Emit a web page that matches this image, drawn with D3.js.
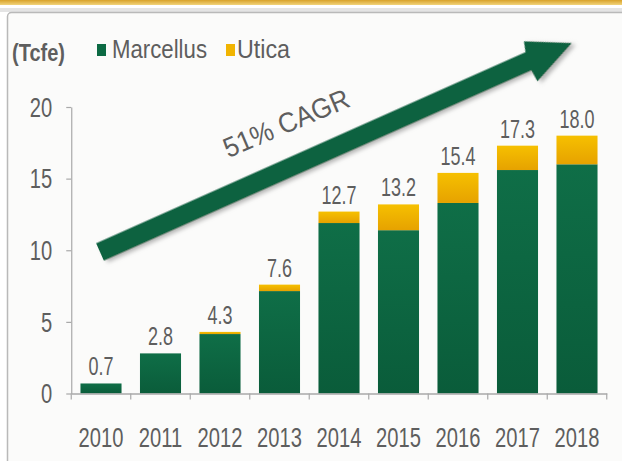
<!DOCTYPE html>
<html>
<head>
<meta charset="utf-8">
<script src="https://cdn.jsdelivr.net/npm/d3@7"></script>
<style>
  html, body { margin: 0; padding: 0; background: #ffffff; }
  svg { display: block; }
  text { font-family: "Liberation Sans", Arial, sans-serif; }
</style>
</head>
<body>
<svg id="chart" width="622" height="461"></svg>
<script>
// Production by year (Tcfe)
const years = ["2010", "2011", "2012", "2013", "2014", "2015", "2016", "2017", "2018"];
const marcellus = [0.7, 2.8, 4.15, 7.15, 11.9, 11.4, 13.3, 15.6, 16.0];
const utica = [0, 0, 0.15, 0.45, 0.8, 1.8, 2.1, 1.7, 2.0];
const yTicks = [0, 5, 10, 15, 20];
const seriesNames = ["Marcellus", "Utica"];
const unitLabel = "(Tcfe)";
const cagrLabel = "51% CAGR";

const colors = { Marcellus: "#0c6a43", Utica: "#f1b400" };
const textColor = "#5e5e5e";
const axisColor = "#a9a9a9";
const squeeze = 0.72; // narrow glyph width

const svg = d3.select("#chart");
const defs = svg.append("defs");

// bar gradients
const gGreen = defs.append("linearGradient").attr("id", "gGreen").attr("x1", 0).attr("y1", 0).attr("x2", 0).attr("y2", 1);
gGreen.append("stop").attr("offset", "0%").attr("stop-color", "#0f6e47");
gGreen.append("stop").attr("offset", "100%").attr("stop-color", "#0a5c3a");
const gYellow = defs.append("linearGradient").attr("id", "gYellow").attr("x1", 0).attr("y1", 0).attr("x2", 0).attr("y2", 1);
gYellow.append("stop").attr("offset", "0%").attr("stop-color", "#f6c000");
gYellow.append("stop").attr("offset", "100%").attr("stop-color", "#e6a200");
const gGold = defs.append("linearGradient").attr("id", "gGold").attr("x1", 0).attr("y1", 0).attr("x2", 0).attr("y2", 1);
gGold.append("stop").attr("offset", "0%").attr("stop-color", "#d8a22a");
gGold.append("stop").attr("offset", "100%").attr("stop-color", "#f2d47c");

const shadow = defs.append("filter").attr("id", "shadow").attr("x", "-10%").attr("y", "-30%").attr("width", "130%").attr("height", "180%");
shadow.append("feDropShadow").attr("dx", 3).attr("dy", 3).attr("stdDeviation", 2)
  .attr("flood-color", "#777").attr("flood-opacity", 0.55);

// page frame
svg.append("rect").attr("width", 622).attr("height", 461).attr("fill", "#ffffff");
svg.append("rect").attr("x", 0).attr("y", 0).attr("width", 622).attr("height", 5).attr("fill", "url(#gGold)");
svg.append("rect").attr("x", 0).attr("y", 8).attr("width", 622).attr("height", 4).attr("fill", "#e4e4e4");
svg.append("rect").attr("x", 7.5).attr("y", 12.5).attr("width", 640).attr("height", 470).attr("rx", 4)
  .attr("fill", "#fbfbfa").attr("stroke", "#b9b9b9").attr("stroke-width", 1.5);

// scales
const x = d3.scaleBand().domain(years).range([71.25, 606.75]).paddingInner(0.31).paddingOuter(0.155);
const y = d3.scaleLinear().domain([0, 20]).range([393.5, 107]);

const rows = years.map((yr, i) => ({ year: yr, Marcellus: marcellus[i], Utica: utica[i] }));
const stacked = d3.stack().keys(seriesNames)(rows);

// bars
const fills = { Marcellus: "url(#gGreen)", Utica: "url(#gYellow)" };
svg.append("g").selectAll("g").data(stacked).join("g")
  .attr("fill", d => fills[d.key])
  .selectAll("rect").data(d => d).join("rect")
  .attr("x", d => x(d.data.year))
  .attr("width", x.bandwidth())
  .attr("y", d => y(d[1]))
  .attr("height", d => Math.max(0, y(d[0]) - y(d[1])));

// total labels
const totals = rows.map(r => r.Marcellus + r.Utica);
svg.append("g").selectAll("g").data(rows).join("g")
  .attr("transform", (d, i) => `translate(${x(d.year) + x.bandwidth() / 2},${y(totals[i]) - 8}) scale(${squeeze},1)`)
  .append("text")
  .attr("text-anchor", "middle")
  .attr("font-size", 25)
  .attr("fill", textColor)
  .text((d, i) => totals[i].toFixed(1));

// y axis
const yAxis = svg.append("g").attr("transform", "translate(71.25,0)")
  .call(d3.axisLeft(y).tickValues(yTicks).tickSize(5).tickSizeOuter(0));
yAxis.select(".domain").attr("stroke", axisColor).attr("stroke-width", 1.2);
yAxis.selectAll(".tick line").attr("stroke", axisColor).attr("stroke-width", 1.2);
yAxis.selectAll(".tick text")
  .attr("font-size", 28).attr("fill", textColor)
  .attr("x", -19 / squeeze).attr("dy", "0.33em")
  .attr("transform", `scale(${squeeze},1)`);

// x axis: year labels at band centres, ticks at band edges
const xAxis = svg.append("g").attr("transform", `translate(0,${y(0)})`)
  .call(d3.axisBottom(x).tickSize(0).tickPadding(34).tickSizeOuter(0));
xAxis.select(".domain").attr("stroke", axisColor).attr("stroke-width", 1.4);
xAxis.selectAll(".tick text")
  .attr("font-size", 28).attr("fill", textColor)
  .attr("transform", `scale(${squeeze},1)`);
const edges = years.map(d => x(d) - x.step() * x.paddingInner() / 2).concat([x.range()[1]]);
xAxis.append("g").selectAll("line").data(edges).join("line")
  .attr("x1", d => d).attr("x2", d => d)
  .attr("y1", 0).attr("y2", 6)
  .attr("stroke", axisColor).attr("stroke-width", 1.2);

// unit label and legend
svg.append("text").attr("x", 12).attr("y", 61)
  .attr("font-size", 24).attr("font-weight", "bold").attr("fill", textColor)
  .attr("textLength", 53).attr("lengthAdjust", "spacingAndGlyphs")
  .text(unitLabel);

const legendItems = [
  { name: "Marcellus", sx: 97, tx: 112, len: 95 },
  { name: "Utica", sx: 226, tx: 237, len: 53 }
];
const legend = svg.append("g").selectAll("g").data(legendItems).join("g");
legend.append("rect")
  .attr("x", d => d.sx).attr("y", 44).attr("width", 9).attr("height", 12)
  .attr("fill", d => colors[d.name]);
legend.append("text")
  .attr("x", d => d.tx).attr("y", 58)
  .attr("font-size", 25).attr("fill", textColor)
  .attr("textLength", d => d.len).attr("lengthAdjust", "spacingAndGlyphs")
  .text(d => d.name);

// growth arrow
const arrowPts = [[0, -9.5], [470, -9.5], [473, -20], [516, 1], [469, 22], [468, 9.5], [0, 9.5]];
svg.append("path")
  .attr("transform", "translate(100,252) rotate(-24)")
  .attr("d", d3.line()(arrowPts) + "Z")
  .attr("fill", "#0b6240")
  .attr("filter", "url(#shadow)");

svg.append("text")
  .attr("transform", "translate(290,132) rotate(-23)")
  .attr("text-anchor", "middle")
  .attr("font-size", 28).attr("fill", textColor)
  .attr("textLength", 134).attr("lengthAdjust", "spacingAndGlyphs")
  .text(cagrLabel);
</script>
</body>
</html>
